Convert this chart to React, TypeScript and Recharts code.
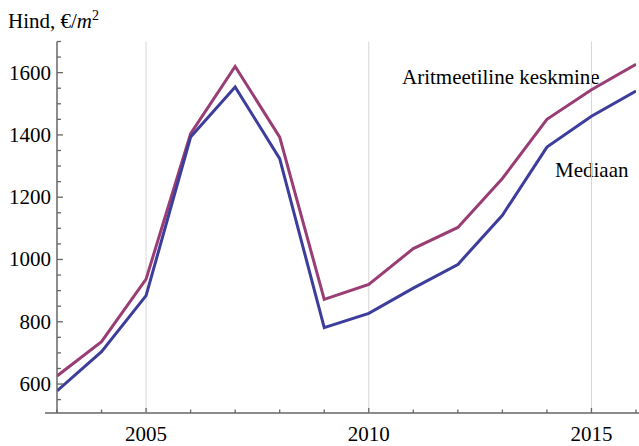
import React from "react";
import { LineChart, Line, XAxis, YAxis, ReferenceLine, Customized } from "recharts";

const years = [2003, 2004, 2005, 2006, 2007, 2008, 2009, 2010, 2011, 2012, 2013, 2014, 2015, 2016];
const meanValues = [626, 736, 937, 1404, 1620, 1393, 872, 920, 1035, 1103, 1260, 1450, 1545, 1627];
const medianValues = [578, 704, 884, 1393, 1554, 1324, 781, 827, 908, 984, 1142, 1361, 1460, 1541];
const xTicks = years;
const xLabeled = [2005, 2010, 2015];
const yTicks = [550, 600, 650, 700, 750, 800, 850, 900, 950, 1000, 1050, 1100, 1150, 1200, 1250, 1300, 1350, 1400, 1450, 1500, 1550, 1600, 1650, 1700];
const yLabeled = [600, 800, 1000, 1200, 1400, 1600];
const meanLabel = "Aritmeetiline keskmine";
const medianLabel = "Mediaan";

const data = years.map((year, i) => ({ year, mean: meanValues[i], median: medianValues[i] }));

const FONT = "Liberation Serif, DejaVu Serif, serif";
const AXIS = "#666666";
const textStyle: React.CSSProperties = { fontFamily: FONT, fontSize: 21, fill: "#000" };

const XTick = (props: any) => {
  const { x, y, payload } = props;
  const major = xLabeled.includes(payload.value);
  return (
    <g>
      <line x1={x} x2={x} y1={y} y2={y - (major ? 5 : 3.5)} stroke={AXIS} strokeWidth={1.3} />
      {major && (
        <text x={x} y={y + 28} textAnchor="middle" style={textStyle}>
          {payload.value}
        </text>
      )}
    </g>
  );
};

const YTick = (props: any) => {
  const { x, y, payload } = props;
  const major = yLabeled.includes(payload.value);
  return (
    <g>
      <line x1={x} x2={x + (major ? 6 : 4)} y1={y} y2={y} stroke={AXIS} strokeWidth={1.3} />
      {major && (
        <text x={x - 6} y={y + 7} textAnchor="end" style={textStyle}>
          {payload.value}
        </text>
      )}
    </g>
  );
};

const Labels = () => (
  <g>
    <line x1={45} x2={639} y1={413} y2={413} stroke={AXIS} strokeWidth={1.5} />
    <text x={8} y={28} style={textStyle}>
      Hind, €/<tspan style={{ fontStyle: "italic" }}>m</tspan>
      <tspan style={{ fontSize: 14 }} dy={-8}>2</tspan>
    </text>
    <text x={402} y={84} style={textStyle}>{meanLabel}</text>
    <text x={555} y={177} style={textStyle}>{medianLabel}</text>
  </g>
);

export default function App() {
  return (
    <div style={{ position: "absolute", left: 0, top: 0, width: 639, height: 446, background: "#fff" }}>
      <LineChart width={639} height={446} data={data} margin={{ top: 41.5, right: 3, left: 0, bottom: 0 }}>
        <XAxis
          dataKey="year"
          type="number"
          domain={[2003, 2016]}
          ticks={xTicks}
          interval={0}
          tickLine={false}
          tickSize={0}
          tickMargin={0}
          height={33}
          axisLine={false}
          tick={<XTick />}
          allowDataOverflow
        />
        <YAxis
          type="number"
          domain={[507, 1700]}
          ticks={yTicks}
          interval={0}
          tickLine={false}
          tickSize={0}
          tickMargin={0}
          width={57}
          axisLine={{ stroke: AXIS, strokeWidth: 1.5 }}
          tick={<YTick />}
          allowDataOverflow
        />
        {xLabeled.map((v) => (
          <ReferenceLine key={v} x={v} stroke="#d6d6d6" strokeWidth={1} />
        ))}
        <Line type="linear" dataKey="mean" stroke="#993d75" strokeWidth={3} dot={false} isAnimationActive={false} />
        <Line type="linear" dataKey="median" stroke="#3d3d9b" strokeWidth={3} dot={false} isAnimationActive={false} />
        <Customized component={Labels} />
      </LineChart>
    </div>
  );
}
